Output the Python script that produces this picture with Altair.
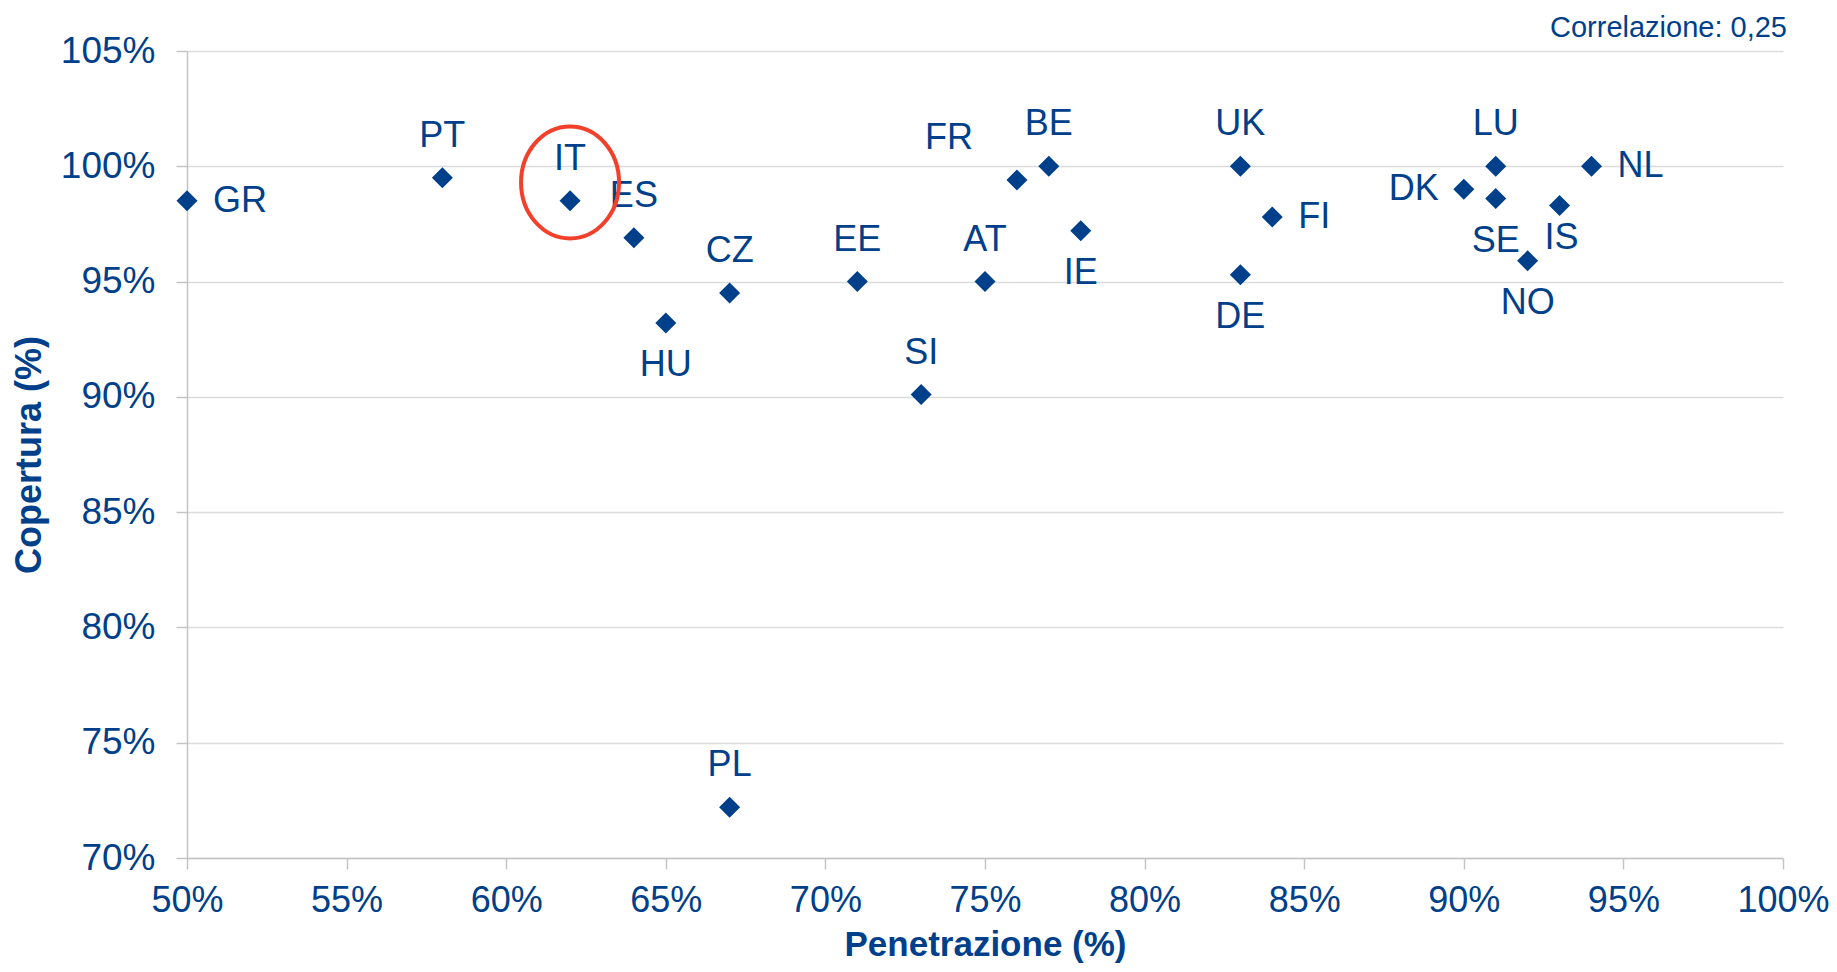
import altair as alt
import pandas as pd

# ---- data ----
countries = ["GR", "PT", "IT", "ES", "HU", "CZ", "EE", "SI", "AT", "FR", "BE",
             "IE", "UK", "DE", "FI", "DK", "LU", "SE", "NO", "IS", "NL", "PL"]
penetrazione = [50, 58, 62, 64, 65, 67, 71, 73, 75, 76, 77,
                78, 83, 83, 84, 90, 91, 91, 92, 93, 94, 67]
copertura = [98.5, 99.5, 98.5, 96.9, 93.2, 94.5, 95.0, 90.1, 95.0, 99.4, 100.0,
             97.2, 100.0, 95.3, 97.8, 99.0, 100.0, 98.6, 95.9, 98.3, 100.0, 72.2]
label_pos = ["right", "above", "above", "above", "below", "above", "above", "above",
             "above", "aboveleft", "above", "below", "above", "below", "right",
             "left", "above", "below", "below", "belowclose", "right", "above"]

x_ticks = [50, 55, 60, 65, 70, 75, 80, 85, 90, 95, 100]
y_ticks = [70, 75, 80, 85, 90, 95, 100, 105]

highlight_x = [62.0]
highlight_y = [99.3]

corr_text = ["Correlazione: 0,25"]

# ---- styles ----
BLUE = "#003f8a"
RED = "#f2402a"
FONT = "Liberation Sans"
W, H = 1596, 807

df = pd.DataFrame({"paese": countries, "pen": penetrazione,
                   "cop": copertura, "pos": label_pos})
hl = pd.DataFrame({"pen": highlight_x, "cop": highlight_y})
corr = pd.DataFrame({"t": corr_text})

xscale = alt.Scale(domain=[50, 100], nice=False, zero=False)
yscale = alt.Scale(domain=[70, 105], nice=False, zero=False)

xaxis = alt.Axis(values=x_ticks, labelExpr="datum.value + '%'", title="Penetrazione (%)",
                 grid=False, tickSize=11, labelPadding=14, labelFontSize=36,
                 labelFlush=False, labelOverlap=False,
                 labelColor=BLUE, titleColor=BLUE, titleFontSize=35,
                 titleFontWeight="bold", titlePadding=9, domainColor="#c4c4c4",
                 tickColor="#c4c4c4", domainWidth=1.5, tickWidth=1.5)
yaxis = alt.Axis(values=y_ticks, labelExpr="datum.value + '%'", title="Copertura (%)",
                 grid=True, gridColor="#dcdcdc", gridWidth=1.5, tickSize=11,
                 labelPadding=21, labelFontSize=37, labelColor=BLUE, titleColor=BLUE,
                 labelFlush=False, labelOverlap=False,
                 titleFontSize=36, titleFontWeight="bold", titlePadding=12,
                 domainColor="#c4c4c4", tickColor="#c4c4c4", domainWidth=1.5,
                 tickWidth=1.5)

base = alt.Chart(df).encode(
    x=alt.X("pen:Q", scale=xscale, axis=xaxis),
    y=alt.Y("cop:Q", scale=yscale, axis=yaxis),
)

points = base.mark_point(shape="diamond", filled=True, size=441, color=BLUE, opacity=1)

offsets = {
    "above": (0, -42, "center"),
    "below": (0, 42, "center"),
    "right": (26, 0, "left"),
    "left": (-25, 0, "right"),
    "aboveleft": (-68, -42, "center"),
    "belowclose": (2, 33, "center"),
}
label_layers = []
for name, (dx, dy, al) in offsets.items():
    label_layers.append(
        base.transform_filter(alt.datum.pos == name)
        .mark_text(dx=dx, dy=dy, align=al, baseline="middle", fontSize=36,
                   color=BLUE, font=FONT)
        .encode(text="paese:N")
    )

ellipse_path = ("M -0.875 0 C -0.875 -0.5523 -0.4833 -1 0 -1 "
                "C 0.4833 -1 0.875 -0.5523 0.875 0 "
                "C 0.875 0.5523 0.4833 1 0 1 "
                "C -0.4833 1 -0.875 0.5523 -0.875 0 Z")
ellipse = alt.Chart(hl).mark_point(shape=ellipse_path, size=12544, filled=False,
                                   color=RED, strokeWidth=4, opacity=1).encode(
    x=alt.X("pen:Q", scale=xscale), y=alt.Y("cop:Q", scale=yscale))

corr_layer = alt.Chart(corr).mark_text(align="right", baseline="alphabetic",
                                       fontSize=29, color=BLUE, font=FONT).encode(
    x=alt.value(W + 4), y=alt.value(-14), text="t:N")

chart = alt.layer(points, *label_layers, ellipse, corr_layer).properties(
    width=W, height=H,
    autosize=alt.AutoSizeParams(type="none"),
    padding={"left": 179, "top": 43, "right": 46, "bottom": 106},
).configure(font=FONT).configure_view(stroke=None)

chart.save("out.html", embed_options={"renderer": "svg", "actions": False})
